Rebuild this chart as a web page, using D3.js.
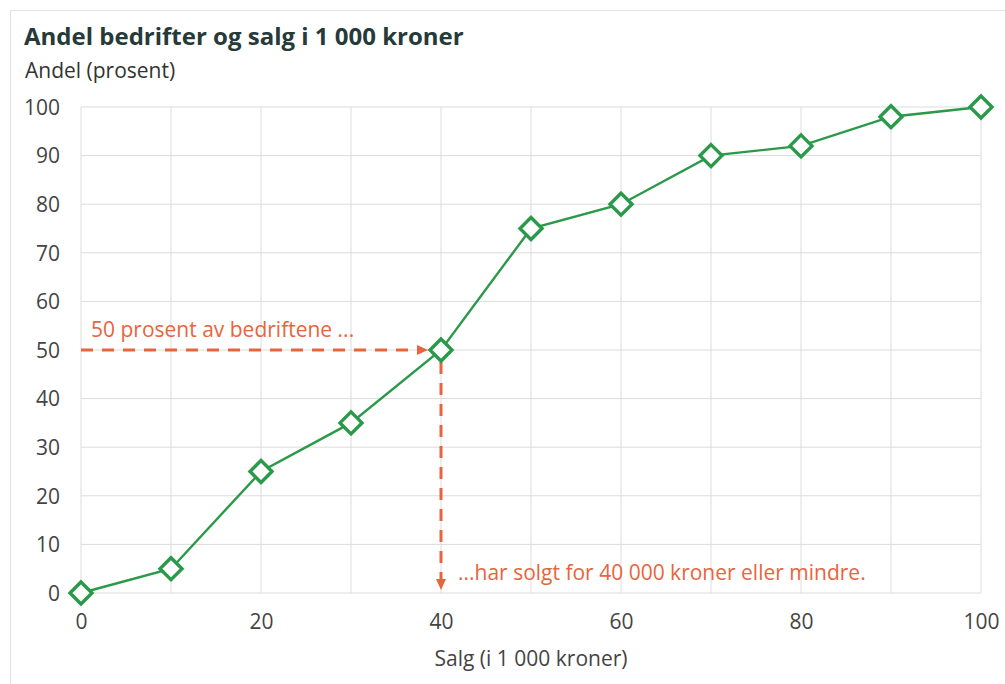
<!DOCTYPE html>
<html><head><meta charset="utf-8">
<script src="https://cdn.jsdelivr.net/npm/d3@7"></script>
<style>
body{margin:0;background:#fff;}
svg{display:block;font-family:"Open Sans",sans-serif;}
</style></head>
<body>
<svg id="c" width="1005" height="684"></svg>
<script>
const salg = [0,10,20,30,40,50,60,70,80,90,100];
const andel = [0,5,25,35,50,75,80,90,92,98,100];
const xTicks = [0,20,40,60,80,100];
const yTicks = [0,10,20,30,40,50,60,70,80,90,100];
const gridX = [0,10,20,30,40,50,60,70,80,90,100];
const markX = 40, markY = 50;

const svg = d3.select("#c");
const W=1005,H=684;
const m={l:81,r:24,t:107,b:91};
const x=d3.scaleLinear().domain([0,100]).range([m.l,W-m.r]);
const y=d3.scaleLinear().domain([0,100]).range([H-m.b,m.t]);
const FS=21;

svg.append("rect").attr("x",10.5).attr("y",10.5).attr("width",1100).attr("height",1000)
  .attr("fill","none").attr("stroke","#e2e2e2");

const g=svg.append("g");
g.selectAll(".gx").data(gridX).join("line")
 .attr("x1",d=>x(d)).attr("x2",d=>x(d)).attr("y1",y(0)).attr("y2",y(100))
 .attr("stroke","#dcdcdc").attr("stroke-width",1);
g.selectAll(".gy").data(yTicks).join("line")
 .attr("x1",x(0)).attr("x2",x(100)).attr("y1",d=>y(d)).attr("y2",d=>y(d))
 .attr("stroke","#dcdcdc").attr("stroke-width",1);

// axes
const ya=svg.append("g").attr("transform",`translate(${x(0)-21},0)`)
 .call(d3.axisLeft(y).tickValues(yTicks).tickSize(0).tickPadding(0));
ya.select(".domain").remove();
ya.selectAll("text").attr("font-size",FS).attr("fill","#444").attr("font-family","Open Sans").attr("dy","0.35em");
const xa=svg.append("g").attr("transform",`translate(0,${y(0)+21})`)
 .call(d3.axisBottom(x).tickValues(xTicks).tickSize(0).tickPadding(0));
xa.select(".domain").remove();
xa.selectAll("text").attr("font-size",FS).attr("fill","#444").attr("font-family","Open Sans").attr("dy","0.71em");

// titles
svg.append("text").attr("x",24).attr("y",45).text("Andel bedrifter og salg i 1 000 kroner")
 .attr("font-size",24).attr("font-weight",700).attr("fill","#263a3a");
svg.append("text").attr("x",25).attr("y",78).text("Andel (prosent)")
 .attr("font-size",FS).attr("fill","#333");
svg.append("text").attr("x",(x(0)+x(100))/2).attr("y",666).attr("text-anchor","middle")
 .text("Salg (i 1 000 kroner)").attr("font-size",FS).attr("fill","#444");

// annotations
const orange="#e8643c";
svg.append("line").attr("x1",x(0)).attr("x2",x(markX)-22).attr("y1",y(markY)).attr("y2",y(markY))
 .attr("stroke",orange).attr("stroke-width",3).attr("stroke-dasharray","12,9");
svg.append("path").attr("d",`M${x(markX)-24},${y(markY)-5}L${x(markX)-13},${y(markY)}L${x(markX)-24},${y(markY)+5}Z`).attr("fill",orange);
svg.append("line").attr("x1",x(markX)).attr("x2",x(markX)).attr("y1",y(markY)+12).attr("y2",y(0)-14)
 .attr("stroke",orange).attr("stroke-width",3).attr("stroke-dasharray","12,9");
svg.append("path").attr("d",`M${x(markX)-5},${y(0)-14}L${x(markX)},${y(0)-3}L${x(markX)+5},${y(0)-14}Z`).attr("fill",orange);
svg.append("text").attr("x",x(0)+10).attr("y",y(markY)-13).text("50 prosent av bedriftene ...")
 .attr("font-size",FS).attr("fill",orange);
svg.append("text").attr("x",x(markX)+17).attr("y",y(0)-13).text("...har solgt for 40 000 kroner eller mindre.")
 .attr("font-size",FS).attr("fill",orange);

// line & markers
const green="#2a9a4a";
const pts=salg.map((s,i)=>[s,andel[i]]);
svg.append("path").datum(pts).attr("d",d3.line().x(d=>x(d[0])).y(d=>y(d[1])))
 .attr("fill","none").attr("stroke",green).attr("stroke-width",2.4);
const r=11;
svg.selectAll(".mk").data(pts).join("path")
 .attr("d",d=>`M${x(d[0])},${y(d[1])-r}L${x(d[0])+r},${y(d[1])}L${x(d[0])},${y(d[1])+r}L${x(d[0])-r},${y(d[1])}Z`)
 .attr("fill","#fff").attr("stroke",green).attr("stroke-width",3.4);
</script>
</body></html>
